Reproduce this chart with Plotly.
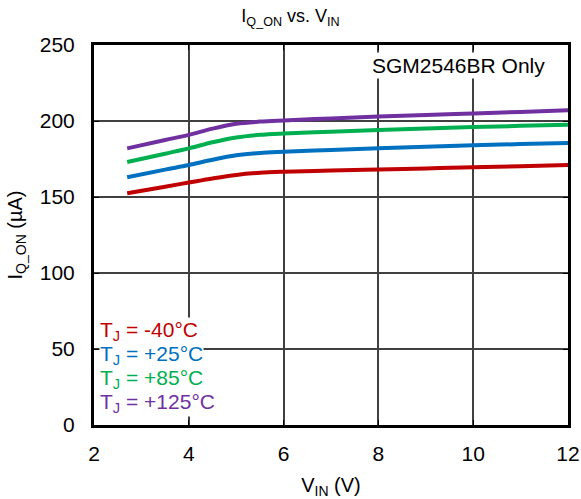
import plotly.graph_objects as go

vin = [2.7, 3.5, 4.0, 4.5, 5.0, 5.5, 6.0, 7.0, 8.0, 9.0, 10.0, 11.0, 12.0]
i_m40 = [152.5, 156.8, 159.5, 162.2, 164.5, 165.9, 166.6, 167.4, 168.1, 168.8, 169.5, 170.3, 171.0]
i_25 = [163.0, 168.0, 171.0, 174.5, 177.4, 179.0, 179.8, 181.0, 182.1, 183.1, 184.0, 184.8, 185.5]
i_85 = [173.0, 178.5, 182.0, 186.0, 189.2, 190.9, 191.8, 193.0, 194.1, 195.1, 196.0, 196.8, 197.5]
i_125 = [182.0, 187.5, 190.9, 195.0, 198.2, 199.6, 200.4, 201.7, 202.9, 204.0, 205.0, 206.0, 207.0]

series = [
    ("-40°C", i_m40, "#C00000"),
    ("+25°C", i_25, "#0070C0"),
    ("+85°C", i_85, "#00B050"),
    ("+125°C", i_125, "#7030A0"),
]

x_ticks = [2, 4, 6, 8, 10, 12]
y_ticks = [0, 50, 100, 150, 200, 250]

FONT = "Liberation Sans, Arial, sans-serif"

fig = go.Figure()
for name, ys, col in series:
    fig.add_trace(go.Scatter(x=vin, y=ys, mode="lines", name=name,
                             line=dict(color=col, width=4, shape="spline", smoothing=1.0),
                             showlegend=False))

annotations = [
    dict(text="SGM2546BR Only", x=0.956, y=0.946, xref="paper", yref="paper",
         xanchor="right", yanchor="middle", showarrow=False,
         font=dict(family=FONT, size=21, color="black"), bgcolor="white", borderpad=1),
]
for k, (name, ys, col) in enumerate(series):
    annotations.append(dict(
        text="T<sub>J</sub> = " + name, x=0.01, y=0.247 - k * 0.063,
        xref="paper", yref="paper", xanchor="left", yanchor="middle",
        showarrow=False, font=dict(family=FONT, size=21, color=col),
        bgcolor="white", borderpad=0))

fig.update_layout(
    width=581, height=499,
    margin=dict(l=94, r=13, t=45, b=74),
    paper_bgcolor="white", plot_bgcolor="white",
    font=dict(family=FONT, size=21, color="black"),
    title=dict(text="I<sub>Q_ON</sub> vs. V<sub>IN</sub>", x=0.5, xanchor="center",
               y=0.968, yanchor="middle", font=dict(family=FONT, size=18)),
    xaxis=dict(range=[2, 12], tickvals=x_ticks, showgrid=True, gridcolor="#404040",
               gridwidth=1.5, showline=True, linecolor="black", linewidth=3, mirror="ticks",
               ticks="inside", ticklen=5, tickwidth=1, tickcolor="black", zeroline=False,
               ticklabelstandoff=8, tickfont=dict(size=21), automargin=False,
               title=dict(text="V<sub>IN</sub> (V)", standoff=14, font=dict(size=20))),
    yaxis=dict(range=[0, 250], tickvals=y_ticks, showgrid=True, gridcolor="#404040",
               gridwidth=1.5, showline=True, linecolor="black", linewidth=3, mirror="ticks",
               ticks="inside", ticklen=5, tickwidth=1, tickcolor="black", zeroline=False,
               ticklabelstandoff=12, tickfont=dict(size=21), automargin=False,
               title=dict(text="I<sub>Q_ON</sub> (µA)", standoff=12, font=dict(size=20))),
    annotations=annotations,
)

fig.write_html("out.html")
